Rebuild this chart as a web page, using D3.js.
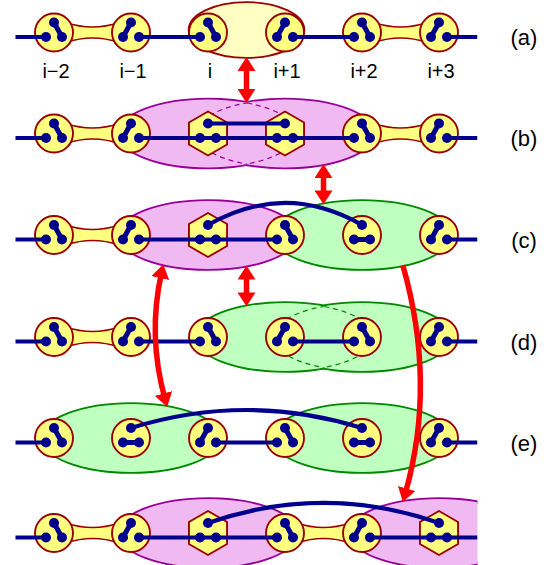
<!DOCTYPE html>
<html>
<head>
<meta charset="utf-8">
<script src="https://cdn.jsdelivr.net/npm/d3@7"></script>
<style>
  body { margin: 0; background: #fff; }
  svg { display: block; }
  text { font-family: "Liberation Sans", Arial, Helvetica, sans-serif; fill: #000; }
</style>
</head>
<body>
<div class="svg-area"></div>
<script>
// sites of the chain, row labels
const siteLabels = ["i\u22122", "i\u22121", "i", "i+1", "i+2", "i+3"];
const siteIndex = [-2, -1, 0, 1, 2, 3];
const rowLabels = ["(a)", "(b)", "(c)", "(d)", "(e)", ""];

// c = ring, h = hexagon
const rowShapes = ["cccccc", "cchhcc", "cchccc", "cccccc", "cccccc", "cchcch"];
// bond in each site: R top-lowright, L top-lowleft, H lowleft-lowright, - none
const rowBonds = ["RLRLRL", "RL--RL", "RL-RHL", "RLRLRL", "RHLRHL", "RL-RL-"];

// chain pieces [from site, to site]; -2.5 and 3.5 are the edges
const chains = [
  [[-2.5, -2], [-1, 0], [1, 2], [3, 3.5]],
  [[-2.5, -2], [-1, 2], [3, 3.5]],
  [[-2.5, -2], [-1, 1], [3, 3.5]],
  [[-2.5, -2], [-1, 0], [1, 2], [3, 3.5]],
  [[-2.5, -2], [0, 1], [3, 3.5]],
  [[-2.5, -2], [-1, 1], [2, 3.5]]
];

// dimers drawn with a neck
const necks = [
  [[-2, -1], [2, 3]],
  [[-2, -1], [2, 3]],
  [[-2, -1]],
  [[-2, -1]],
  [],
  [[-2, -1], [1, 2]]
];

// links between top dots: [row, from, to, bend]
const links = [
  [1, 0, 1, 0],
  [2, 0, 2, 0.143],
  [4, -1, 2, 0.078],
  [5, 0, 3, 0.087]
];

// bubbles: one or more centres (drawn as a union)
const bubbles = [
  {row: 0, centers: [0.5], span: 1, color: "yellow"},
  {row: 1, centers: [0, 1], span: 2, color: "pink"},
  {row: 2, centers: [0], span: 2, color: "pink"},
  {row: 2, centers: [2], span: 2, color: "green"},
  {row: 3, centers: [1, 2], span: 2, color: "green"},
  {row: 4, centers: [-1], span: 2, color: "green"},
  {row: 4, centers: [2], span: 2, color: "green"},
  {row: 5, centers: [0], span: 2, color: "pink"},
  {row: 5, centers: [3], span: 2, color: "pink"}
];

// red arrows: from [site, row] bottom edge to [site, row] top edge
const arrows = [
  {from: [0.5, 0], to: [0.5, 1], bend: 0, heads: 2},
  {from: [1.5, 1], to: [1.5, 2], bend: 0, heads: 2},
  {from: [0.5, 2], to: [0.5, 3], bend: 0, heads: 2},
  {from: [-0.58, 2], to: [-0.53, 4], bend: -0.23, heads: 2},
  {from: [2.53, 2], to: [2.53, 5], bend: 0.44, heads: 1}
];

const W = 552, H = 565;
const svg = d3.select(".svg-area").append("svg")
    .attr("width", W)
    .attr("height", H);

const x = d3.scaleLinear().domain([-2, 3]).range([54, 439]);
const unit = x(1) - x(0);
const y = d3.scaleLinear().domain([0, 1, 2, 3, 4, 5]).range([32.5, 133.5, 235, 337, 438, 533]);

const R_RING = 19, R_HEX = 22, R_DOT = 5;
const TOP = -10, LOW = 4.5, SIDE = 8;
const NAVY = "#00008c", RED = "#ff0000", RING = "#990000", YEL = "#ffff80";

const palette = {
  yellow: {fill: "#ffffc4", stroke: "#990000"},
  pink: {fill: "#f1b9f1", stroke: "#990099"},
  green: {fill: "#bfffbf", stroke: "#008800"}
};

function ell(b, c) {
  const pair = b.span === 1;
  return {
    cx: x(c),
    cy: y(b.row) - (pair ? 2.5 : 0),
    rx: (pair ? 0.74 : 1.15) * unit,
    ry: pair ? 27 : 34
  };
}

const defs = svg.append("defs");
defs.append("clipPath").attr("id", "frame")
  .append("rect").attr("x", 0).attr("y", 0).attr("width", x(3.5)).attr("height", H);

defs.append("marker")
    .attr("id", "head")
    .attr("viewBox", "0 -9 14 18")
    .attr("refX", 5)
    .attr("refY", 0)
    .attr("markerWidth", 14)
    .attr("markerHeight", 18)
    .attr("markerUnits", "userSpaceOnUse")
    .attr("orient", "auto-start-reverse")
  .append("path")
    .attr("d", "M0,-9L14,0L0,9Z")
    .attr("fill", RED);

const g = svg.append("g").attr("clip-path", "url(#frame)");

// bubbles
bubbles.forEach((b, bi) => {
  const col = palette[b.color];
  const es = b.centers.map(c => ell(b, c));
  const bg = g.append("g");
  bg.selectAll(".out").data(es).enter().append("ellipse")
    .attr("cx", d => d.cx).attr("cy", d => d.cy)
    .attr("rx", d => d.rx).attr("ry", d => d.ry)
    .attr("fill", "none").attr("stroke", col.stroke).attr("stroke-width", 3.6);
  bg.selectAll(".in").data(es).enter().append("ellipse")
    .attr("cx", d => d.cx).attr("cy", d => d.cy)
    .attr("rx", d => d.rx).attr("ry", d => d.ry)
    .attr("fill", col.fill);
  if (es.length > 1) {
    es.forEach((e, k) => {
      const other = es[1 - k];
      const id = "cl" + bi + "_" + k;
      defs.append("clipPath").attr("id", id).append("ellipse")
        .attr("cx", other.cx).attr("cy", other.cy)
        .attr("rx", other.rx).attr("ry", other.ry);
      bg.append("ellipse")
        .attr("cx", e.cx).attr("cy", e.cy).attr("rx", e.rx).attr("ry", e.ry)
        .attr("fill", "none").attr("stroke", col.stroke).attr("stroke-width", 1.2)
        .attr("stroke-dasharray", "5,4")
        .attr("clip-path", "url(#" + id + ")");
    });
  }
});

// necks between dimer sites
necks.forEach((list, r) => {
  const cy = y(r);
  list.forEach(([a, b]) => {
    const x1 = x(a) + 12, x2 = x(b) - 12, xm = (x(a) + x(b)) / 2;
    g.append("path")
      .attr("d", `M${x1},${cy - 10}Q${xm},${cy - 1} ${x2},${cy - 10}L${x2},${cy + 10}Q${xm},${cy + 1} ${x1},${cy + 10}Z`)
      .attr("fill", YEL).attr("stroke", RING).attr("stroke-width", 1.6);
  });
});

// sites
const hex = d3.range(6).map(k => {
  const a = (-90 + 60 * k) * Math.PI / 180;
  return [R_HEX * Math.cos(a), R_HEX * Math.sin(a)];
});
rowShapes.forEach((shapes, r) => {
  siteIndex.forEach((s, k) => {
    const cx = x(s), cy = y(r);
    if (shapes[k] === "c") {
      g.append("circle").attr("cx", cx).attr("cy", cy).attr("r", R_RING)
        .attr("fill", YEL).attr("stroke", RING).attr("stroke-width", 1.9);
    } else {
      g.append("polygon")
        .attr("points", hex.map(p => [cx + p[0], cy + p[1]].join(",")).join(" "))
        .attr("fill", YEL).attr("stroke", RING).attr("stroke-width", 1.9)
        .attr("stroke-linejoin", "round");
    }
  });
});

// chain lines
chains.forEach((list, r) => {
  const ly = y(r) + LOW;
  list.forEach(([a, b]) => {
    const x1 = Number.isInteger(a) ? x(a) + SIDE : x(a);
    const x2 = Number.isInteger(b) ? x(b) - SIDE : x(b);
    g.append("line").attr("x1", x1).attr("x2", x2).attr("y1", ly).attr("y2", ly)
      .attr("stroke", NAVY).attr("stroke-width", 4);
  });
});

// links between top dots
links.forEach(([r, a, b, bend]) => {
  const ty = y(r) + TOP, x1 = x(a), x2 = x(b);
  const cyq = ty - 2 * bend * (x2 - x1);
  g.append("path")
    .attr("d", `M${x1},${ty}Q${(x1 + x2) / 2},${cyq} ${x2},${ty}`)
    .attr("fill", "none").attr("stroke", NAVY).attr("stroke-width", 4.2);
});

// bonds and dots
rowBonds.forEach((bonds, r) => {
  siteIndex.forEach((s, k) => {
    const cx = x(s), cy = y(r);
    const top = [cx, cy + TOP], bl = [cx - SIDE, cy + LOW], br = [cx + SIDE, cy + LOW];
    const t = bonds[k];
    const pair = t === "R" ? [top, br] : t === "L" ? [top, bl] : t === "H" ? [bl, br] : null;
    if (pair) {
      g.append("line")
        .attr("x1", pair[0][0]).attr("y1", pair[0][1])
        .attr("x2", pair[1][0]).attr("y2", pair[1][1])
        .attr("stroke", NAVY).attr("stroke-width", 5);
    }
    [top, bl, br].forEach(p => {
      g.append("circle").attr("cx", p[0]).attr("cy", p[1]).attr("r", R_DOT).attr("fill", NAVY);
    });
  });
});

// arrows
function edgeY(row, xs, side) {
  const px = x(xs);
  let best = null;
  bubbles.filter(b => b.row === row).forEach(b => b.centers.forEach(c => {
    const e = ell(b, c);
    const dx = px - e.cx;
    if (Math.abs(dx) < e.rx) {
      const yy = e.cy + side * e.ry * Math.sqrt(1 - (dx / e.rx) ** 2);
      if (best === null || side * yy > side * best) best = yy;
    }
  }));
  return best;
}

function shorten(p, q, cut) {
  const dx = q[0] - p[0], dy = q[1] - p[1], L = Math.hypot(dx, dy);
  return [p[0] + dx / L * cut, p[1] + dy / L * cut];
}

arrows.forEach(a => {
  let p0 = [x(a.from[0]), edgeY(a.from[1], a.from[0], 1)];
  let p2 = [x(a.to[0]), edgeY(a.to[1], a.to[0], -1)];
  const c = [(p0[0] + p2[0]) / 2 + a.bend * unit, (p0[1] + p2[1]) / 2];
  p2 = shorten(p2, c, 9);
  if (a.heads === 2) p0 = shorten(p0, c, 9);
  const path = g.append("path")
    .attr("d", `M${p0[0]},${p0[1]}Q${c[0]},${c[1]} ${p2[0]},${p2[1]}`)
    .attr("fill", "none").attr("stroke", RED).attr("stroke-width", 5.5)
    .attr("marker-end", "url(#head)");
  if (a.heads === 2) path.attr("marker-start", "url(#head)");
});

// site labels under the first row
svg.selectAll(".site").data(siteLabels).enter().append("text")
    .attr("class", "site")
    .attr("x", (d, i) => x(siteIndex[i]) + 2)
    .attr("y", y(0) + 45.5)
    .attr("text-anchor", "middle")
    .attr("font-size", 20)
    .text(d => d);

// row labels
svg.selectAll(".row").data(rowLabels).enter().append("text")
    .attr("class", "row")
    .attr("x", 524)
    .attr("y", (d, i) => y(i) + LOW + 8)
    .attr("text-anchor", "middle")
    .attr("font-size", 22)
    .text(d => d);
</script>
</body>
</html>
